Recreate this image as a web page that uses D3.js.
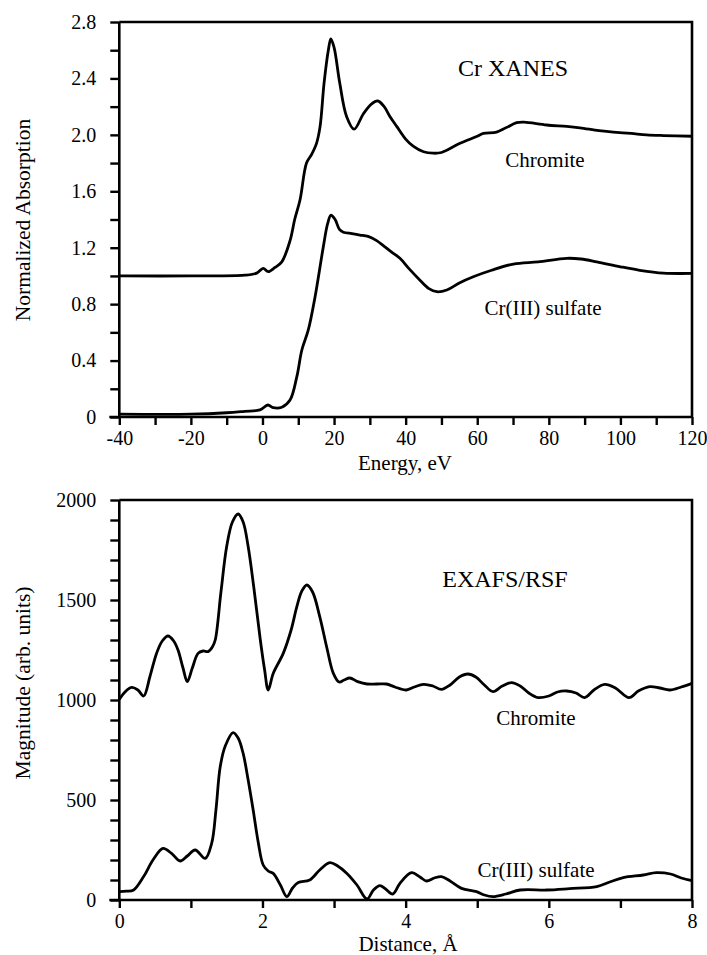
<!DOCTYPE html>
<html><head><meta charset="utf-8">
<script src="https://cdn.jsdelivr.net/npm/d3@7/dist/d3.min.js"></script>
<style>
body{margin:0;background:#fff;}
svg text{font-family:"Liberation Serif","Tinos","Nimbus Roman","Times New Roman","DejaVu Serif",serif !important;fill:#000;}
</style></head>
<body>
<svg id="c" width="707" height="955"></svg>
<script>
// ---- Top panel: Cr XANES (energy eV, normalized absorption)
const xanesChromiteE = [-40,-20,-5,-1.6,0.2,1.6,3.5,5.4,7.7,9,10.5,12.3,13.7,15.1,16.1,17.2,18.4,19.1,20.0,21.6,23.5,25.6,28.2,30.5,32.2,34,35.6,37.5,40,42.1,45,47.7,50,55.2,60,61.7,65.4,68,71,73,79.4,85,88.7,94,98,103,107.3,112,120];
const xanesChromiteV = [1.0,1.0,1.005,1.02,1.054,1.03,1.06,1.10,1.25,1.40,1.54,1.80,1.86,1.94,2.06,2.365,2.60,2.68,2.62,2.365,2.13,2.04,2.15,2.22,2.24,2.20,2.13,2.06,1.97,1.92,1.88,1.87,1.875,1.94,1.99,2.01,2.02,2.05,2.086,2.09,2.07,2.06,2.05,2.03,2.02,2.01,2.0,1.995,1.99];
const xanesSulfateE = [-40,-20,-10,-5,-0.7,1.5,3,5.4,7.7,9.6,11,12.8,14.7,17,18.2,19.1,20.3,21.5,22.6,25,27.2,29.5,31.9,34,36,38.4,41,44,46.5,48.7,51.5,55,58.9,64,70.1,77,85,89,93.4,100,105.4,112,120];
const xanesSulfateV = [0.02,0.02,0.03,0.04,0.05,0.085,0.066,0.069,0.12,0.286,0.475,0.617,0.853,1.207,1.37,1.43,1.40,1.33,1.31,1.30,1.29,1.28,1.25,1.21,1.17,1.125,1.05,0.97,0.91,0.888,0.90,0.95,0.994,1.04,1.084,1.10,1.125,1.12,1.10,1.065,1.04,1.02,1.018];
const xanesXTicks = [-40,-20,0,20,40,60,80,100,120];
const xanesYTicks = [0,0.4,0.8,1.2,1.6,2.0,2.4,2.8];

// ---- Bottom panel: EXAFS/RSF (distance A, magnitude)
const rsfChromiteD = [0,0.08,0.17,0.26,0.34,0.43,0.52,0.6,0.68,0.76,0.82,0.89,0.95,1.02,1.10,1.17,1.24,1.30,1.34,1.42,1.50,1.58,1.66,1.73,1.80,1.88,1.97,2.03,2.08,2.15,2.29,2.40,2.48,2.55,2.62,2.70,2.80,2.90,2.99,3.07,3.14,3.22,3.33,3.46,3.6,3.73,3.85,4.01,4.12,4.25,4.38,4.50,4.62,4.75,4.87,4.98,5.10,5.22,5.35,5.48,5.60,5.72,5.85,6.0,6.12,6.25,6.38,6.50,6.63,6.78,6.93,7.12,7.25,7.41,7.55,7.69,7.85,8.0];
const rsfChromiteV = [1003,1040,1063,1050,1020,1120,1233,1295,1320,1295,1250,1160,1092,1160,1233,1245,1242,1265,1300,1540,1767,1890,1930,1890,1767,1560,1300,1150,1050,1133,1233,1350,1467,1545,1575,1540,1417,1260,1133,1090,1100,1110,1092,1080,1080,1080,1065,1050,1065,1078,1070,1053,1075,1115,1130,1115,1075,1042,1070,1087,1070,1035,1012,1020,1040,1045,1035,1012,1050,1078,1060,1012,1045,1067,1060,1050,1065,1083];
const rsfSulfateD = [0,0.1,0.2,0.34,0.47,0.61,0.73,0.85,0.95,1.06,1.20,1.29,1.35,1.41,1.48,1.59,1.66,1.73,1.80,1.87,1.94,2.01,2.08,2.15,2.25,2.34,2.42,2.50,2.66,2.80,2.94,3.05,3.18,3.32,3.46,3.55,3.64,3.72,3.82,3.92,4.08,4.2,4.29,4.40,4.50,4.62,4.78,4.99,5.1,5.22,5.40,5.60,5.97,6.29,6.67,6.85,7.04,7.32,7.50,7.70,7.85,8.0];
const rsfSulfateV = [42,44,50,117,200,258,233,195,220,250,208,283,450,667,770,837,810,733,600,450,290,175,145,133,75,17,60,87,100,150,187,170,133,75,5,50,72,55,30,83,137,115,95,110,117,95,58,42,25,17,30,50,50,57,67,90,112,125,137,130,110,97];
const rsfXTicks = [0,2,4,6,8];
const rsfYTicks = [0,500,1000,1500,2000];

const svg = d3.select("#c");
const FS = 20;
const SERIF = '"Liberation Serif","Tinos","Nimbus Roman","Times New Roman","DejaVu Serif",serif';

function panel(o){
  const g = svg.append("g");
  const x = d3.scaleLinear().domain(o.xd).range([119.3,692]);
  const y = d3.scaleLinear().domain(o.yd).range([o.y1,o.y0]);
  g.append("path").attr("d",`M119.3,${o.y0}H692V${o.y1}`).attr("fill","none").attr("stroke","#000").attr("stroke-width",2.6);
  const ya = g.append("g").attr("transform","translate(119.3,0)")
    .call(d3.axisLeft(y).tickValues(d3.range(o.yd[0],o.yd[1]+o.ymin/2,o.ymin)).tickSize(9).tickPadding(14)
      .tickFormat(d=>{const m=o.yTicks.find(t=>Math.abs(t-d)<1e-6);return m===undefined?"":o.yFmt(m);}));
  const xa = g.append("g").attr("transform",`translate(0,${o.y1})`)
    .call(d3.axisBottom(x).tickValues(d3.range(o.xd[0],o.xd[1]+o.xmin/2,o.xmin)).tickSize(8).tickPadding(6)
      .tickFormat(d=>{const m=o.xTicks.find(t=>Math.abs(t-d)<1e-6);return m===undefined?"":String(m);}));
  [ya,xa].forEach(a=>{
    a.attr("font-family",SERIF).attr("font-size",FS);
    a.select(".domain").attr("stroke-width",2.6);
    a.selectAll(".tick line").attr("stroke-width",2.4);
    a.selectAll("text").attr("font-size",FS).attr("font-family",SERIF);
  });
  ya.select(".domain").attr("d",`M0,${o.y0}V${o.y1}`);
  xa.select(".domain").attr("d",`M${x(o.xd[0])-10},0H692`);
  const line = d3.line().x(d=>x(d[0])).y(d=>y(d[1])).curve(d3.curveCatmullRom.alpha(0.5));
  o.series.forEach(s=>{
    g.append("path").datum(d3.zip(s[0],s[1])).attr("d",line)
      .attr("fill","none").attr("stroke","#000").attr("stroke-width",2.8).attr("stroke-linejoin","round");
  });
  return {g,x,y};
}

const panelTop = panel({xd:[-40,120],yd:[0,2.8],y0:22,y1:417,ymin:0.2,xmin:10,
  xTicks:xanesXTicks,yTicks:xanesYTicks,yFmt:d=>d===0?"0":d.toFixed(1),
  series:[[xanesChromiteE,xanesChromiteV],[xanesSulfateE,xanesSulfateV]]});
const panelBot = panel({xd:[0,8],yd:[0,2000],y0:500,y1:900,ymin:100,xmin:1,
  xTicks:rsfXTicks,yTicks:rsfYTicks,yFmt:d=>String(d),
  series:[[rsfChromiteD,rsfChromiteV],[rsfSulfateD,rsfSulfateV]]});

function txt(x,y,s,size,rot){
  const t = svg.append("text").attr("x",x).attr("y",y).attr("text-anchor","middle")
    .attr("font-family",SERIF).attr("font-size",size).text(s);
  if(rot) t.attr("transform",`rotate(-90,${x},${y})`);
  return t;
}
txt(513,76,"Cr XANES",24);
txt(545,167,"Chromite",21);
txt(543,315,"Cr(III) sulfate",21);
txt(405,470,"Energy, eV",21);
txt(30,220,"Normalized Absorption",21.5,true);

txt(505,587,"EXAFS/RSF",24);
txt(536,725,"Chromite",21);
txt(536,877,"Cr(III) sulfate",21);
txt(408,951,"Distance, Å",21);
txt(30,683,"Magnitude (arb. units)",21.5,true);
</script>
</body></html>
